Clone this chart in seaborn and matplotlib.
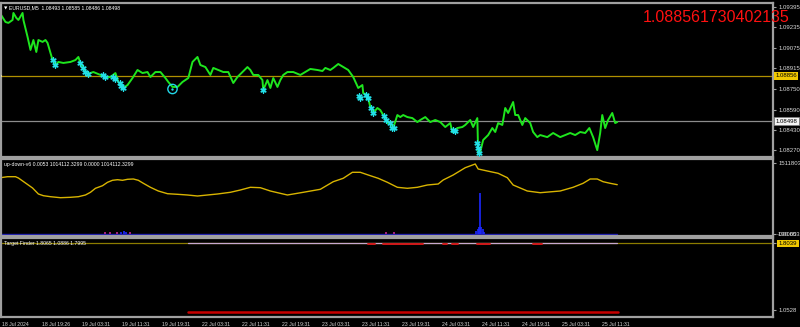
import matplotlib
matplotlib.use("Agg")
import matplotlib.pyplot as plt
import matplotlib.transforms as mtransforms
import numpy as np
import pandas as pd
import seaborn as sns

# ---------------- data ----------------
price_bar = [0, 12, 19, 29, 31, 38, 43, 53, 55, 65, 72, 79, 86, 91, 101, 108, 113, 120, 125, 132,
             139, 151, 168, 180, 187, 192, 199, 209, 223, 240, 252, 264, 276, 283, 295, 305, 317,
             329, 341, 353, 360, 372, 384, 396, 403, 413, 425, 437, 451, 461, 473, 480, 492, 504,
             511, 523, 535, 547, 559, 569, 581, 593, 600, 607, 619, 629, 631, 641, 648, 655, 665,
             672, 679, 689, 703, 720, 732, 744, 761, 773, 780, 792, 799, 811, 823, 835, 847, 859,
             869, 871, 881, 888, 895, 905, 912, 919, 929, 936, 943, 953, 960, 967, 977, 989, 1001,
             1008, 1020, 1032, 1044, 1056, 1068, 1080, 1085, 1097, 1109, 1116, 1128, 1135, 1145,
             1147, 1152, 1159, 1171, 1181, 1188, 1195, 1205, 1212, 1219, 1231, 1236, 1243, 1253,
             1260, 1272, 1279, 1289, 1296, 1313, 1327, 1344, 1356, 1368, 1380, 1392, 1404, 1414,
             1423, 1433, 1440, 1445, 1452, 1459, 1469, 1476, 1481]
price_close = [1.09340, 1.09277, 1.09270, 1.09293, 1.09348, 1.09309, 1.09293, 1.09348, 1.09293,
               1.09160, 1.09058, 1.09136, 1.09042, 1.09136, 1.09121, 1.09136, 1.09113, 1.09034,
               1.08979, 1.08940, 1.08964, 1.08956, 1.08964, 1.08979, 1.09003, 1.08956, 1.08917,
               1.08870, 1.08885, 1.08862, 1.08846, 1.08846, 1.08877, 1.08807, 1.08760, 1.08783,
               1.08838, 1.08901, 1.08877, 1.08885, 1.08846, 1.08885, 1.08885, 1.08838, 1.08807,
               1.08768, 1.08768, 1.08807, 1.08838, 1.08964, 1.09003, 1.08940, 1.08924, 1.08862,
               1.08917, 1.08901, 1.08885, 1.08885, 1.08799, 1.08846, 1.08885, 1.08924, 1.08901,
               1.08862, 1.08862, 1.08822, 1.08744, 1.08822, 1.08760, 1.08838, 1.08768, 1.08822,
               1.08862, 1.08885, 1.08885, 1.08862, 1.08885, 1.08909, 1.08901, 1.08893, 1.08917,
               1.08901, 1.08917, 1.08948, 1.08924, 1.08901, 1.08846, 1.08760, 1.08783, 1.08720,
               1.08705, 1.08611, 1.08564, 1.08603, 1.08587, 1.08548, 1.08485, 1.08493, 1.08446,
               1.08548, 1.08532, 1.08548, 1.08532, 1.08524, 1.08493, 1.08509, 1.08532, 1.08493,
               1.08509, 1.08493, 1.08454, 1.08485, 1.08415, 1.08446, 1.08454, 1.08470, 1.08509,
               1.08454, 1.08524, 1.08250, 1.08258, 1.08352, 1.08391, 1.08446, 1.08415, 1.08485,
               1.08470, 1.08603, 1.08564, 1.08650, 1.08548, 1.08548, 1.08470, 1.08524, 1.08485,
               1.08415, 1.08375, 1.08391, 1.08375, 1.08407, 1.08375, 1.08391, 1.08407, 1.08391,
               1.08415, 1.08407, 1.08446, 1.08375, 1.08273, 1.08407, 1.08548, 1.08446, 1.08509,
               1.08564, 1.08485, 1.08493]

signal_bar = [127, 132, 192, 197, 204, 209, 245, 250, 269, 276, 286, 290, 295, 631,
              862, 864, 878, 883, 890, 895, 922, 926, 936, 941, 946, 1087, 1092, 1145, 1147, 1150]
signal_price = [1.08979, 1.08940, 1.08956, 1.08917, 1.08885, 1.08870, 1.08862, 1.08846,
                1.08846, 1.08830, 1.08799, 1.08775, 1.08760, 1.08744, 1.08697, 1.08681,
                1.08705, 1.08681, 1.08603, 1.08564, 1.08540, 1.08509, 1.08485, 1.08446,
                1.08446, 1.08430, 1.08422, 1.08329, 1.08289, 1.08250]

ring_bar = [413]
ring_price = [1.08752]

level_gold = 1.08856
level_bid = 1.08498

main_ticks = [1.09395, 1.09235, 1.09075, 1.08915, 1.08750, 1.08590, 1.08430, 1.08270]
main_tick_labels = ["1.09395", "1.09235", "1.09075", "1.08915", "1.08750", "1.08590", "1.08430", "1.08270"]

osc_bar = [0, 17, 36, 43, 60, 77, 91, 103, 120, 144, 168, 187, 204, 216, 228, 245, 257, 269, 281,
           293, 305, 319, 331, 343, 360, 379, 401, 425, 449, 473, 497, 521, 552, 576, 600, 624,
           648, 689, 727, 768, 799, 823, 845, 864, 883, 907, 929, 953, 977, 1001, 1025, 1051,
           1063, 1087, 1116, 1140, 1147, 1169, 1195, 1217, 1231, 1265, 1296, 1344, 1375, 1399,
           1416, 1433, 1447, 1464, 1481]
osc_value = [1198600, 1219900, 1219900, 1192200, 1085800, 979300, 851600, 815400, 794100, 772800,
             781300, 794100, 830300, 887800, 972900, 1028300, 1100700, 1143300, 1156000, 1143300,
             1164600, 1171000, 1143300, 1079400, 994200, 915500, 858000, 845200, 830300, 809000,
             830300, 851600, 887800, 936800, 994200, 985700, 915500, 830300, 887800, 951700,
             1113500, 1185900, 1313600, 1313600, 1256100, 1185900, 1100700, 994200, 972900,
             994200, 1043200, 1064500, 1149700, 1256100, 1411500, 1490300, 1383900, 1341300,
             1292300, 1198600, 1043200, 915500, 879300, 915500, 994200, 1079400, 1171000,
             1171000, 1113500, 1079400, 1050000]

hist_bar = [290, 296, 302, 1143, 1146, 1149, 1152, 1155, 1158, 1161]
hist_value = [35000, 60000, 35000, 60000, 110000, 150000, 873000, 140000, 100000, 50000]
dot_bar = [250, 262, 280, 312, 925, 945]
dot_value = [25000, 25000, 20000, 25000, 25000, 25000]

osc_ticks = [1511803.6, 0.0]
osc_tick_labels = ["1511803.6", "0.0000"]

tf_level = 1.8039
tf_line_bar = [451, 1481]
tf_line_value = [1.8039, 1.8039]
tf_red_top_bar = [883, 900, np.nan, 919, 1015, np.nan, 1063, 1073, np.nan, 1085, 1099, np.nan,
                  1145, 1176, np.nan, 1279, 1301]
tf_red_top_value = [1.797, 1.797, np.nan, 1.797, 1.797, np.nan, 1.797, 1.797, np.nan, 1.797, 1.797,
                    np.nan, 1.797, 1.797, np.nan, 1.797, 1.797]
tf_red_bar = [451, 1111, 1111, 1483]
tf_red_value = [1.0310, 1.0310, 1.0290, 1.0290]
tf_ticks = [1.8039, 1.0528]
tf_tick_labels = ["1.8039", "1.0528"]

time_tick_bar = [4 + 96 * i for i in range(16)]
time_tick_labels = ["18 Jul 2024", "18 Jul 19:26", "19 Jul 03:31", "19 Jul 11:31", "19 Jul 19:31",
                    "22 Jul 03:31", "22 Jul 11:31", "22 Jul 19:31", "23 Jul 03:31", "23 Jul 11:31",
                    "23 Jul 19:31", "24 Jul 03:31", "24 Jul 11:31", "24 Jul 19:31", "25 Jul 03:31",
                    "25 Jul 11:31"]

header_text = "EURUSD,M5  1.08493 1.08585 1.08486 1.08498"
big_value_text = "1.088561730402135"
osc_title = "up-down-v6 0.0053 1014112.3299 0.0000 1014112.3299"
tf_title = "Target Finder 1.8065 1.0886 1.7995"

# ---------------- style ----------------
sns.set_theme(style="dark", rc={
    "axes.facecolor": "black",
    "figure.facecolor": "black",
    "savefig.facecolor": "black",
    "axes.edgecolor": "#a0a0a0",
    "axes.grid": False,
    "xtick.color": "#a0a0a0",
    "ytick.color": "#a0a0a0",
    "xtick.labelcolor": "#d8d8d8",
    "ytick.labelcolor": "#d8d8d8",
})
plt.rcParams["font.family"] = ["Liberation Sans", "DejaVu Sans"]

SMALL = 3.7   # titles / time labels
RIGHT = 4.3   # right-hand scale labels

W, H = 800, 327
fig = plt.figure(figsize=(W / 100, H / 100), dpi=100)

def rect(top_px, bot_px, left_px=0.5, right_px=773):
    return [left_px / W, 1 - bot_px / H, (right_px - left_px) / W, (bot_px - top_px) / H]

ax1 = fig.add_axes(rect(3, 157))
ax2 = fig.add_axes(rect(159, 236))
ax3 = fig.add_axes(rect(238, 317))

XMAX = 1855
for ax in (ax1, ax2, ax3):
    ax.set_facecolor("black")
    ax.set_xlim(0, XMAX)
    for s in ax.spines.values():
        s.set_color("#a0a0a0")
        s.set_linewidth(1.6)
    ax.yaxis.tick_right()
    ax.tick_params(axis="y", which="both", length=2.5, width=0.8, pad=1.5, labelsize=RIGHT)
    ax.tick_params(axis="x", which="both", length=0, labelbottom=False)

# ----- main price panel -----
df_price = pd.DataFrame({"bar": price_bar, "close": price_close})
sns.lineplot(data=df_price, x="bar", y="close", ax=ax1, color="#1ee61e", linewidth=1.4,
             estimator=None, sort=False)
df_sig = pd.DataFrame({"bar": signal_bar, "price": signal_price})
sns.scatterplot(data=df_sig, x="bar", y="price", ax=ax1, color="#22e0e8", marker=(6, 2, 0),
                s=14, linewidth=1.0, zorder=5)
sns.scatterplot(x=ring_bar, y=ring_price, ax=ax1, facecolor="none", edgecolor="#22d8e8",
                marker="o", s=45, linewidth=1.0, zorder=6)
sns.scatterplot(x=ring_bar, y=ring_price, ax=ax1, color="#22d8e8", marker="o", s=3,
                linewidth=0, zorder=6)
ax1.axhline(level_gold, color="#b09000", linewidth=0.9, zorder=1)
ax1.axhline(level_bid, color="#8c8c8c", linewidth=0.9, zorder=1)
ax1.set_ylim(1.08219, 1.09426)
ax1.set_yticks(main_ticks)
ax1.set_yticklabels(main_tick_labels)
sns.scatterplot(x=[2], y=[level_gold], ax=ax1, color="#e0d8a0", marker="s", s=4, linewidth=0,
                zorder=7)
ax1.set_xlabel("")
ax1.set_ylabel("")

tr1 = mtransforms.blended_transform_factory(ax1.transAxes, ax1.transData)
ax1.text(1.003, level_gold, "1.08856", transform=tr1, fontsize=RIGHT, color="black", va="center",
         ha="left", clip_on=False,
         bbox=dict(boxstyle="square,pad=0.25", fc="#f0c800", ec="none"))
ax1.text(1.003, level_bid, "1.08498", transform=tr1, fontsize=RIGHT, color="black", va="center",
         ha="left", clip_on=False,
         bbox=dict(boxstyle="square,pad=0.25", fc="#f4f4f4", ec="#808080", lw=0.5))
ax1.text(0.004, 0.975, "\u25BC", transform=ax1.transAxes, fontsize=3.2, color="white",
         va="top", ha="left", family=["DejaVu Sans"])
ax1.text(0.0115, 0.982, header_text, transform=ax1.transAxes, fontsize=SMALL, color="white",
         va="top", ha="left")
fig.text(790 / W, 1 - 17 / H, big_value_text, fontsize=11.5, color="#ff1010",
         family=["Liberation Sans", "DejaVu Sans"], ha="right", va="center")

# ----- oscillator panel -----
df_osc = pd.DataFrame({"bar": osc_bar, "value": osc_value})
sns.lineplot(data=df_osc, x="bar", y="value", ax=ax2, color="#d8b400", linewidth=1.0,
             estimator=None, sort=False)
ax2.plot([0, price_bar[-1]], [0, 0], color="#1818b0", linewidth=1.0, zorder=2)
ax2.vlines(hist_bar, 0, hist_value, color="#1c28ff", linewidth=1.2, zorder=3)
sns.scatterplot(x=dot_bar, y=dot_value, ax=ax2, color="#a0207a", marker="s", s=2,
                linewidth=0, zorder=4)
ax2.set_ylim(-42580, 1596750)
ax2.set_yticks(osc_ticks)
ax2.set_yticklabels(osc_tick_labels)
ax2.set_xlabel("")
ax2.set_ylabel("")
tr2 = mtransforms.blended_transform_factory(ax2.transAxes, ax2.transData)
ax2.text(1.0045, 0, "-190.653", transform=tr2, fontsize=RIGHT, color="#d8d8d8", va="center",
         ha="left", clip_on=False)
ax2.text(0.004, 0.965, osc_title, transform=ax2.transAxes, fontsize=SMALL, color="white",
         va="top", ha="left")

# ----- target finder panel -----
ax3.axhline(tf_level, color="#8c7c00", linewidth=0.9, zorder=1)
sns.lineplot(x=tf_line_bar, y=tf_line_value, ax=ax3, color="#c8a8d0", linewidth=0.9,
             estimator=None, sort=False)
ax3.plot(tf_red_top_bar, tf_red_top_value, color="#d01818", linewidth=1.4, zorder=3)
sns.lineplot(x=tf_red_bar, y=tf_red_value, ax=ax3, color="#c80000", linewidth=1.8,
             estimator=None, sort=False)
ax3.set_ylim(0.9743, 1.8600)
ax3.set_yticks(tf_ticks)
ax3.set_yticklabels(tf_tick_labels)
for lbl in ax3.get_yticklabels():
    if lbl.get_text() == "1.8039":
        lbl.set_color("black")
        lbl.set_bbox(dict(boxstyle="square,pad=0.25", fc="#f0c800", ec="none"))
ax3.text(0.004, 0.965, tf_title, transform=ax3.transAxes, fontsize=SMALL, color="white",
         va="top", ha="left")

ax3.set_xticks(time_tick_bar)
ax3.set_xticklabels(time_tick_labels, ha="left")
ax3.tick_params(axis="x", length=2.5, width=0.8, pad=1.2, labelsize=SMALL, labelbottom=True,
                color="#a0a0a0")
ax3.set_xlabel("")
ax3.set_ylabel("")

fig.savefig("out.png", dpi=100, facecolor="black")
